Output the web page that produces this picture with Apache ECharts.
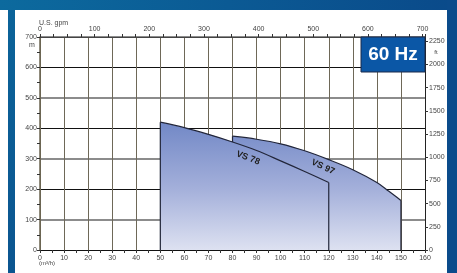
<!DOCTYPE html>
<html><head><meta charset="utf-8">
<script src="https://cdn.jsdelivr.net/npm/echarts@6/dist/echarts.min.js"></script>
<style>html,body{margin:0;padding:0;background:#fff}#c{width:457px;height:273px}</style>
</head><body><div id="c"></div>
<script>
// ---- data ----
const flowTicks = [0,10,20,30,40,50,60,70,80,90,100,110,120,130,140,150,160]; // m3/h
const gpmTicks = [0,100,200,300,400,500,600,700];                             // U.S. gpm
const headTicksM = [0,100,200,300,400,500,600,700];                           // m
const headTicksFt = [0,250,500,750,1000,1250,1500,1750,2000,2250];             // ft
const GPM_PER_M3H = 4.40287;
const FT_PER_M = 3.28084;

const vs78Flow = [50, 60, 70, 80, 90, 100, 110, 120];
const vs78Head = [420, 402, 380, 355, 327, 293, 258, 222];
const vs97Flow = [80, 90, 100, 110, 120, 130, 140, 145, 150];
const vs97Head = [374, 364, 349, 326, 297, 264, 222, 193, 163];
const seriesNames = ['VS 78', 'VS 97'];
const freqLabel = '60 Hz';

// ---- chart ----
const chart = echarts.init(document.getElementById('c'), null, {renderer:'canvas'});
const fillGrad = () => new echarts.graphic.LinearGradient(0, 112, 0, 250,
  [{offset:0,color:'#6a82c3'},{offset:0.55,color:'#a3afda'},{offset:1,color:'#dde1f1'}], true);
const lbl = {fontSize:7, color:'#444', fontFamily:'Liberation Sans'};
const tickStyle = {color:'#333', width:1};
const curveLine = {color:'#22263a', width:1.2};
const T = 'rgba(0,0,0,0)';

const flowMax = flowTicks[flowTicks.length-1];
const mMax = headTicksM[headTicksM.length-1];

function pairs(xs, ys){ return xs.map((x,i)=>[x, ys[i]]); }
function edge(xs, ys, idx){ const x = xs[idx], y = ys[idx]; return [[x,0],[x,y]]; }

function curveSeries(name, xs, ys, z){
  return {name, type:'line', z, xAxisIndex:0, yAxisIndex:0, symbol:'none', showSymbol:false,
    smooth:0.35, data:pairs(xs, ys), lineStyle:curveLine, areaStyle:{color:fillGrad(), opacity:1}};
}
function edgeSeries(xs, ys, idx, z){
  return {type:'line', z, xAxisIndex:0, yAxisIndex:0, symbol:'none', showSymbol:false, silent:true,
    data:edge(xs, ys, idx), lineStyle:curveLine};
}

chart.setOption({
  animation:false,
  textStyle:{fontFamily:'Liberation Sans'},
  grid:{left:40, right:32, top:37, bottom:23, containLabel:false},
  xAxis:[
    {type:'value', position:'bottom', min:flowTicks[0], max:flowMax, interval:flowTicks[1]-flowTicks[0],
     axisLine:{show:true, onZero:false, lineStyle:{color:'#111', width:1}},
     axisTick:{show:true, length:3, lineStyle:tickStyle},
     minorTick:{show:true, splitNumber:2, length:3, lineStyle:tickStyle},
     axisLabel:Object.assign({margin:5}, lbl),
     splitLine:{show:true, lineStyle:{color:'#6e6858', width:1}}},
    {type:'value', position:'top', min:0, max:flowMax*GPM_PER_M3H, interval:gpmTicks[1]-gpmTicks[0],
     axisLine:{show:true, onZero:false, lineStyle:{color:'#444', width:1}},
     axisTick:{show:true, length:3, lineStyle:tickStyle},
     minorTick:{show:true, splitNumber:4, length:3, lineStyle:tickStyle},
     axisLabel:Object.assign({margin:4, showMaxLabel:false,
       formatter:v => gpmTicks.includes(Math.round(v*1000)/1000) ? String(v) : ''}, lbl),
     splitLine:{show:false}}
  ],
  yAxis:[
    {type:'value', position:'left', min:0, max:mMax, interval:headTicksM[1]-headTicksM[0],
     axisLine:{show:true, onZero:false, lineStyle:{color:'#6b6550', width:1.5}},
     axisTick:{show:true, length:3, lineStyle:tickStyle},
     minorTick:{show:true, splitNumber:2, length:3, lineStyle:tickStyle},
     axisLabel:Object.assign({margin:3}, lbl),
     splitLine:{show:true, lineStyle:{width:1,
       color:['#111',T,'#111',T,'#111',T,'#111','#444']}}},
    {type:'value', position:'right', min:0, max:mMax*FT_PER_M, interval:headTicksFt[1]-headTicksFt[0],
     axisLine:{show:true, onZero:false, lineStyle:{color:'#222', width:1}},
     axisTick:{show:true, length:3, lineStyle:tickStyle},
     axisLabel:Object.assign({margin:4, showMaxLabel:false,
       formatter:v => headTicksFt.includes(Math.round(v*1000)/1000) ? String(v) : ''}, lbl),
     splitLine:{show:false}},
    {type:'value', position:'left', min:0, max:mMax, interval:headTicksM[1]-headTicksM[0],
     axisLine:{show:false}, axisTick:{show:false}, axisLabel:{show:false},
     splitLine:{show:true, lineStyle:{width:2, color:[T,'#8c8c8c']}}}
  ],
  series:[
    curveSeries(seriesNames[1], vs97Flow, vs97Head, 3),
    edgeSeries(vs97Flow, vs97Head, 0, 3),
    edgeSeries(vs97Flow, vs97Head, vs97Flow.length-1, 3),
    curveSeries(seriesNames[0], vs78Flow, vs78Head, 4),
    edgeSeries(vs78Flow, vs78Head, 0, 4),
    edgeSeries(vs78Flow, vs78Head, vs78Flow.length-1, 4)
  ],
  graphic:[
    {type:'rect', z:-10, shape:{x:0,y:0,width:457,height:10},
     style:{fill:new echarts.graphic.LinearGradient(0,0,1,0,[{offset:0,color:'#0c6a9e'},{offset:1,color:'#0a4a8a'}])}},
    {type:'rect', z:-10, shape:{x:8,y:10,width:7,height:263},
     style:{fill:new echarts.graphic.LinearGradient(0,0,0,1,[{offset:0,color:'#0b6399'},{offset:1,color:'#0b5590'}])}},
    {type:'rect', z:-10, shape:{x:447,y:0,width:10,height:273}, style:{fill:'#0b4b8b'}},
    {type:'rect', z:100, shape:{x:361,y:37,width:64,height:35}, style:{fill:'#0b57a6', stroke:'#1c2a4a', lineWidth:1}},
    {type:'text', z:101, x:393, y:55, style:{text:freqLabel, fill:'#fff', font:'bold 19px "Liberation Sans"', align:'center', verticalAlign:'middle'}},
    {type:'text', z:100, x:39, y:23, style:{text:'U.S. gpm', fill:'#444', font:'7px "Liberation Sans"', align:'left', verticalAlign:'middle'}},
    {type:'text', z:100, x:32, y:45, style:{text:'m', fill:'#444', font:'7px "Liberation Sans"', align:'center', verticalAlign:'middle'}},
    {type:'text', z:100, x:436, y:52, style:{text:'ft', fill:'#444', font:'6px "Liberation Sans"', align:'center', verticalAlign:'middle'}},
    {type:'text', z:100, x:39, y:263, style:{text:'(m³/h)', fill:'#444', font:'6px "Liberation Sans"', align:'left', verticalAlign:'middle'}},
    {type:'text', z:100, x:248, y:158, rotation:-0.36, style:{text:seriesNames[0], fill:'#222', font:'bold 9px "Liberation Sans"', align:'center', verticalAlign:'middle'}},
    {type:'text', z:100, x:323, y:167, rotation:-0.44, style:{text:seriesNames[1], fill:'#222', font:'bold 9px "Liberation Sans"', align:'center', verticalAlign:'middle'}}
  ]
});
</script></body></html>
